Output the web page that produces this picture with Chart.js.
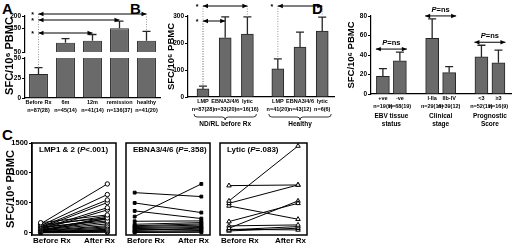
<!DOCTYPE html>
<html>
<head>
<meta charset="utf-8">
<script src="https://cdn.jsdelivr.net/npm/chart.js@4.4.1/dist/chart.umd.min.js"></script>
<style>
  body { margin: 0; background: #fff; width: 520px; height: 246px; position: relative; overflow: hidden;
         font-family: "Liberation Sans", Arial, sans-serif; }
  canvas { position: absolute; }
  .lt { position: absolute; font-weight: bold; font-size: 15px; line-height: 15px; }
</style>
</head>
<body>
<div class="lt" style="left:2px;top:1px">A</div>
<div class="lt" style="left:130px;top:1px">B</div>
<div class="lt" style="left:2px;top:127px">C</div>
<div class="lt" style="left:312px;top:1px">D</div>

<canvas id="aUp" width="165" height="125" style="left:0;top:0"></canvas>
<canvas id="aLow" width="165" height="125" style="left:0;top:0"></canvas>
<canvas id="bChart" width="178" height="128" style="left:158px;top:0"></canvas>
<canvas id="dChart" width="184" height="130" style="left:336px;top:0"></canvas>
<canvas id="c1" width="121" height="121" style="left:0;top:125px"></canvas>
<canvas id="c2" width="94" height="121" style="left:121px;top:125px"></canvas>
<canvas id="c3" width="97" height="121" style="left:215px;top:125px"></canvas>

<script>
// ---- panel A : ex vivo responses over time ----
const A_LABELS = ['Before Rx', '6m', '12m', 'remission', 'healthy'];
const A_N = ['n=87(28)', 'n=45(14)', 'n=41(14)', 'n=136(37)', 'n=41(20)'];
const A_MEAN = [30, 89, 97, 149, 97];
const A_SEM = [8, 17, 26, 30, 39];
const A_SIG = [4, 3, 2];             // compared against "Before Rx"

// ---- panel B : antigen groups ----
const B_LABELS = ['LMP', 'EBNA3/4/6', 'lytic', 'LMP', 'EBNA3/4/6', 'lytic'];
const B_N = ['n=87(28)', 'n=33(20)', 'n=16(16)', 'n=41(20)', 'n=43(12)', 'n=6(6)'];
const B_GROUP = [0, 0, 0, 1, 1, 1];
const B_GROUPS = ['ND/RL before Rx', 'Healthy'];
const B_MEAN = [30, 219, 233, 104, 185, 244];
const B_SEM = [10, 78, 64, 37, 55, 52];
const B_SIG = [[0, 2], [0, 1], [3, 5]];

// ---- panel D : clinical features ----
const D_LABELS = ['+ve', '-ve', 'I-IIa', 'IIb-IV', '<3', '\u22653'];
const D_N = ['n=19(9)', 'n=68(19)', 'n=29(16)', 'n=39(12)', 'n=52(19)', 'n=16(9)'];
const D_GROUP = [0, 0, 1, 1, 2, 2];
const D_GROUPS = [['EBV tissue', 'status'], ['Clinical', 'stage'], ['Prognostic', 'Score']];
const D_MEAN = [18, 34, 57, 22, 38, 32];
const D_SEM = [8, 9, 20, 6, 12, 13];

// ---- panel C : paired before / after ----
const C_X = ['Before Rx', 'After Rx'];
const C_TICKS = [0, 500, 1000, 1500];
const LMP_BEFORE = [170, 150, 140, 120, 110, 100, 95, 85, 80, 70, 60, 55, 50, 45, 40, 35, 30, 25, 20, 15, 10, 8, 5, 2];
const LMP_AFTER  = [300, 817, 250, 640, 280, 550, 200, 506, 230, 420, 180, 383, 150, 260, 120, 100, 240, 80, 60, 40, 50, 20, 30, 10];
const EBNA_BEFORE = [672, 500, 367, 272, 194, 144, 120, 106, 90, 72, 55, 39, 25, 15, 6];
const EBNA_AFTER  = [606, 339, 239, 817, 200, 172, 150, 130, 106, 90, 60, 80, 40, 20, 10];
const LYT_BEFORE = [789, 533, 494, 450, 189, 78, 117, 50, 33, 60];
const LYT_AFTER  = [800, 1450, 800, 228, 494, 533, 133, 106, 78, 50];
const C_TITLES = [
  [['LMP1 & 2 (', 0], ['P', 1], ['<.001)', 0]],
  [['EBNA3/4/6 (', 0], ['P', 1], ['=.358)', 0]],
  [['Lytic (', 0], ['P', 1], ['=.083)', 0]]
];

const FONT = '"Liberation Sans", Arial, sans-serif';
Chart.defaults.font.family = FONT;
Chart.defaults.font.weight = 'bold';
Chart.defaults.font.size = 7;
Chart.defaults.color = '#000';
Chart.defaults.animation = false;
Chart.defaults.plugins.legend.display = false;
Chart.defaults.plugins.tooltip.enabled = false;

const BAR = '#6a6a6a', EDGE = '#262626';

function yAxis(w, min, max, ticks, title, tsize, tpad, fsize) {
  return {
    min: min, max: max,
    afterFit: s => { s.width = w; },
    afterBuildTicks: s => { s.ticks = ticks.map(v => ({ value: v })); },
    grid: { drawOnChartArea: false, tickLength: 3, color: '#000' },
    border: { color: '#000', width: 1.2 },
    ticks: { padding: 1, font: { size: fsize || 6.5 }, callback: v => String(v) },
    title: title ? { display: true, text: title, font: { size: tsize, weight: 'bold' }, padding: { top: tpad, bottom: 0 } }
                 : { display: false }
  };
}

function richText(ctx, parts, x, y, align, size) {
  const fonts = parts.map(p => (p[1] ? 'italic ' : '') + 'bold ' + size + 'px ' + FONT);
  let w = 0;
  const ws = parts.map((p, i) => { ctx.font = fonts[i]; const m = ctx.measureText(p[0]).width; w += m; return m; });
  let cx = align === 'center' ? x - w / 2 : x;
  ctx.textAlign = 'left'; ctx.textBaseline = 'middle'; ctx.fillStyle = '#000';
  parts.forEach((p, i) => { ctx.font = fonts[i]; ctx.fillText(p[0], cx, y); cx += ws[i]; });
}

function dblArrow(ctx, x1, x2, y) {
  ctx.beginPath(); ctx.moveTo(x1, y); ctx.lineTo(x2, y); ctx.stroke();
  [[x1, 1], [x2, -1]].forEach(([x, d]) => {
    ctx.beginPath(); ctx.moveTo(x, y); ctx.lineTo(x + d * 5, y - 2.2); ctx.lineTo(x + d * 5, y + 2.2);
    ctx.closePath(); ctx.fill();
  });
}

function dotted(ctx, x, y1, y2) {
  ctx.save(); ctx.setLineDash([1, 1.5]); ctx.strokeStyle = '#9a9a9a'; ctx.lineWidth = 1;
  ctx.beginPath(); ctx.moveTo(x, y1); ctx.lineTo(x, y2); ctx.stroke(); ctx.restore();
}

function brace(ctx, x1, x2, y, h) {
  const xm = (x1 + x2) / 2, r = 3;
  ctx.beginPath();
  ctx.moveTo(x1, y);
  ctx.quadraticCurveTo(x1, y + h / 2, x1 + r, y + h / 2);
  ctx.lineTo(xm - r, y + h / 2);
  ctx.quadraticCurveTo(xm, y + h / 2, xm, y + h);
  ctx.quadraticCurveTo(xm, y + h / 2, xm + r, y + h / 2);
  ctx.lineTo(x2 - r, y + h / 2);
  ctx.quadraticCurveTo(x2, y + h / 2, x2, y);
  ctx.stroke();
}

function errPlugin(vals, errs) {
  return {
    id: 'errBars',
    afterDatasetsDraw(chart) {
      const ctx = chart.ctx, y = chart.scales.y, bars = chart.getDatasetMeta(0).data;
      ctx.save(); ctx.strokeStyle = EDGE; ctx.lineWidth = 1.3;
      vals.forEach((v, i) => {
        if (v < y.min || v > y.max) return;
        const x = bars[i].x, t = y.getPixelForValue(v), e = y.getPixelForValue(v + errs[i]);
        ctx.beginPath(); ctx.moveTo(x, t); ctx.lineTo(x, e);
        ctx.moveTo(x - 4, e); ctx.lineTo(x + 4, e); ctx.stroke();
      });
      ctx.restore();
    }
  };
}

const xTicks = { padding: 1, font: { size: 5.5, lineHeight: 1.35 }, maxRotation: 0, autoSkip: false };
const noGrid = { display: false, drawTicks: false, tickLength: 0 };

// ================= Panel A (broken axis: two stacked charts) =================
const aBars = () => ({
  labels: A_LABELS.map((l, i) => [l, A_N[i]]),
  datasets: [{ data: A_MEAN, backgroundColor: BAR, borderColor: EDGE, borderWidth: 1,
               categoryPercentage: 1, barPercentage: 0.7 }]
});

const aUp = new Chart(document.getElementById('aUp'), {
  type: 'bar',
  data: aBars(),
  options: {
    responsive: false,
    layout: { padding: { top: 16, bottom: 73, left: 0, right: 5 } },
    scales: {
      x: { display: false },
      y: yAxis(25, 50, 200, [50, 150, 200], null)
    }
  },
  plugins: [errPlugin(A_MEAN, A_SEM)]
});

const aLow = new Chart(document.getElementById('aLow'), {
  type: 'bar',
  data: aBars(),
  options: {
    responsive: false,
    layout: { padding: { top: 58, bottom: 0, left: 0, right: 5 } },
    scales: {
      x: {
        afterFit: s => { s.height = 27; },
        grid: noGrid, border: { color: '#000', width: 1.2 },
        ticks: xTicks
      },
      y: yAxis(25, 0, 50, [0, 25, 50], null)
    }
  },
  plugins: [errPlugin(A_MEAN, A_SEM), {
    id: 'sigA',
    afterDraw(chart) {
      const ctx = chart.ctx, x = chart.scales.x, yl = chart.scales.y, yu = aUp.scales.y;
      const top = aUp.chartArea.top;
      const levels = [top - 2, top + 4, top + 17];
      ctx.save();
      // y title spanning both segments
      ctx.translate(10, 56); ctx.rotate(-Math.PI / 2);
      ctx.font = 'bold 11px ' + FONT; ctx.textAlign = 'center'; ctx.textBaseline = 'middle';
      ctx.fillText('SFC/10\u2076 PBMC', 0, 0);
      ctx.restore();
      ctx.save();
      ctx.strokeStyle = '#000'; ctx.fillStyle = '#000'; ctx.lineWidth = 1;
      const x0 = x.getPixelForValue(0);
      dotted(ctx, x0, levels[0], yl.getPixelForValue(A_MEAN[0] + A_SEM[0]));
      A_SIG.forEach((j, k) => {
        const xj = x.getPixelForValue(j), yy = levels[k];
        dblArrow(ctx, x0, xj, yy);
        dotted(ctx, xj, yy, yu.getPixelForValue(A_MEAN[j] + A_SEM[j]));
        ctx.font = 'bold 7px ' + FONT; ctx.textAlign = 'center'; ctx.textBaseline = 'middle';
        ctx.fillText('*', x0 - 6, yy + 1);
      });
      ctx.restore();
    }
  }]
});

// ================= Panel B =================
const B_STRIDE = 3.37;
const bPos = B_MEAN.map((_, i) => B_GROUP[i] * B_STRIDE + (i - B_GROUP.indexOf(B_GROUP[i])));

new Chart(document.getElementById('bChart'), {
  type: 'bar',
  data: {
    datasets: [{ data: B_MEAN.map((v, i) => ({ x: bPos[i], y: v })), backgroundColor: BAR,
                 borderColor: EDGE, borderWidth: 1, barThickness: 12 }]
  },
  options: {
    responsive: false,
    layout: { padding: { top: 16, bottom: 0, left: 0, right: 2 } },
    scales: {
      x: {
        type: 'linear', min: -0.675, max: 5.9, offset: false,
        afterFit: s => { s.height = 31; },
        afterBuildTicks: s => { s.ticks = bPos.map(v => ({ value: v })); },
        grid: noGrid, border: { color: '#000', width: 1.2 },
        ticks: Object.assign({}, xTicks, { callback: (v, i) => [B_LABELS[i], B_N[i]] })
      },
      y: yAxis(30, 0, 300, [0, 100, 200, 300], 'SFC/10\u2076 PBMC', 9.5, 8)
    }
  },
  plugins: [errPlugin(B_MEAN, B_SEM), {
    id: 'sigB',
    afterDraw(chart) {
      const ctx = chart.ctx, x = chart.scales.x, y = chart.scales.y, ca = chart.chartArea;
      const levels = [ca.top - 10, ca.top + 5, ca.top - 10];
      ctx.save();
      ctx.strokeStyle = '#000'; ctx.fillStyle = '#000'; ctx.lineWidth = 1;
      B_SIG.forEach(([a, b], k) => {
        const xa = x.getPixelForValue(bPos[a]), xb = x.getPixelForValue(bPos[b]), yy = levels[k];
        dotted(ctx, xa, yy, y.getPixelForValue(B_MEAN[a] + B_SEM[a]));
        const eb = y.getPixelForValue(B_MEAN[b] + B_SEM[b]);
        if (eb > yy) dotted(ctx, xb, yy, eb);
        dblArrow(ctx, xa, xb, yy);
        ctx.font = 'bold 7px ' + FONT; ctx.textAlign = 'center'; ctx.textBaseline = 'middle';
        ctx.fillText('*', xa - 6, yy + 1);
      });
      // group braces and names
      ctx.lineWidth = 0.8;
      B_GROUPS.forEach((g, gi) => {
        const idx = B_GROUP.map((v, i) => v === gi ? i : -1).filter(i => i >= 0);
        const x1 = x.getPixelForValue(bPos[idx[0]]) - 9, x2 = x.getPixelForValue(bPos[idx[idx.length - 1]]) + 9;
        brace(ctx, x1, x2, ca.bottom + 17, 6);
        ctx.font = 'bold 6.5px ' + FONT; ctx.textAlign = 'center'; ctx.textBaseline = 'middle';
        ctx.fillText(g, (x1 + x2) / 2, ca.bottom + 27);
      });
      ctx.restore();
    }
  }]
});

// ================= Panel D =================
const D_STRIDE = 2.9;
const dPos = D_MEAN.map((_, i) => D_GROUP[i] * D_STRIDE + (i - D_GROUP.indexOf(D_GROUP[i])));

new Chart(document.getElementById('dChart'), {
  type: 'bar',
  data: {
    datasets: [{ data: D_MEAN.map((v, i) => ({ x: dPos[i], y: v })), backgroundColor: BAR,
                 borderColor: EDGE, borderWidth: 1, barThickness: 13 }]
  },
  options: {
    responsive: false,
    layout: { padding: { top: 16, bottom: 0, left: 0, right: 9 } },
    scales: {
      x: {
        type: 'linear', min: -0.7, max: 7.54, offset: false,
        afterFit: s => { s.height = 36; },
        afterBuildTicks: s => { s.ticks = dPos.map(v => ({ value: v })); },
        grid: noGrid, border: { color: '#000', width: 1.2 },
        ticks: Object.assign({}, xTicks, { callback: (v, i) => [D_LABELS[i], D_N[i]] })
      },
      y: yAxis(35, 0, 80, [0, 10, 20, 30, 40, 50, 60, 70, 80], 'SFC/10\u2076 PBMC', 9.5, 10)
    }
  },
  plugins: [errPlugin(D_MEAN, D_SEM), {
    id: 'sigD',
    afterDraw(chart) {
      const ctx = chart.ctx, x = chart.scales.x, y = chart.scales.y, ca = chart.chartArea;
      ctx.save();
      ctx.strokeStyle = '#000'; ctx.fillStyle = '#000'; ctx.lineWidth = 1;
      D_GROUPS.forEach((g, gi) => {
        const idx = D_GROUP.map((v, i) => v === gi ? i : -1).filter(i => i >= 0);
        const xs = idx.map(i => x.getPixelForValue(dPos[i]));
        const topErr = Math.max(...idx.map(i => D_MEAN[i] + D_SEM[i]));
        const yy = y.getPixelForValue(topErr) - 3;
        const x1 = xs[0] - 7, x2 = xs[xs.length - 1] + 7;
        dblArrow(ctx, x1, x2, yy);
        richText(ctx, [['P', 1], ['=ns', 0]], (x1 + x2) / 2, yy - 6, 'center', 7.5);
        const xm = (xs[0] + xs[xs.length - 1]) / 2;
        ctx.font = 'bold 6.5px ' + FONT; ctx.textAlign = 'center'; ctx.textBaseline = 'middle';
        ctx.fillText(g[0], xm, ca.bottom + 22);
        ctx.fillText(g[1], xm, ca.bottom + 30);
      });
      ctx.restore();
    }
  }]
});

// ================= Panel C =================
function pairedChart(id, before, after, style, withAxis, title, padRight) {
  const ds = before.map((b, i) => ({
    data: [{ x: 0, y: b }, { x: 1, y: after[i] }],
    borderColor: '#000', borderWidth: 1,
    pointStyle: style.shape, pointRadius: style.r, pointBorderWidth: 1,
    pointBackgroundColor: style.fill, pointBorderColor: '#000'
  }));
  return new Chart(document.getElementById(id), {
    type: 'line',
    data: { datasets: ds },
    options: {
      responsive: false,
      layout: { padding: { top: 18, bottom: 0, left: 0, right: padRight } },
      scales: {
        x: { type: 'linear', min: -0.13, max: 1.13, offset: false,
             afterFit: s => { s.height = 11; },
             grid: noGrid, border: { display: false }, ticks: { display: false } },
        y: withAxis ? yAxis(32, -35, 1500, C_TICKS, 'SFC/10\u2076 PBMC', 11, 4, 7.5)
                    : { display: false, min: -35, max: 1500 }
      }
    },
    plugins: [{
      id: 'box',
      afterDraw(chart) {
        const ctx = chart.ctx, ca = chart.chartArea;
        ctx.save();
        ctx.strokeStyle = '#000'; ctx.lineWidth = 1.5;
        ctx.strokeRect(ca.left, ca.top, ca.right - ca.left, ca.bottom - ca.top);
        richText(ctx, title, ca.left + 7, ca.top + 7, 'left', 8);
        ctx.font = 'bold 8px ' + FONT; ctx.textBaseline = 'middle';
        ctx.textAlign = 'left'; ctx.fillText(C_X[0], ca.left + 1, ca.bottom + 6);
        ctx.textAlign = 'right'; ctx.fillText(C_X[1], ca.right - 1, ca.bottom + 6);
        ctx.restore();
      }
    }]
  });
}

pairedChart('c1', LMP_BEFORE, LMP_AFTER, { shape: 'circle', r: 2.2, fill: '#fff' }, true, C_TITLES[0], 0);
pairedChart('c2', EBNA_BEFORE, EBNA_AFTER, { shape: 'rect', r: 2, fill: '#000' }, false, C_TITLES[1], 0);
pairedChart('c3', LYT_BEFORE, LYT_AFTER, { shape: 'triangle', r: 2.6, fill: '#fff' }, false, C_TITLES[2], 3);
</script>
</body>
</html>
